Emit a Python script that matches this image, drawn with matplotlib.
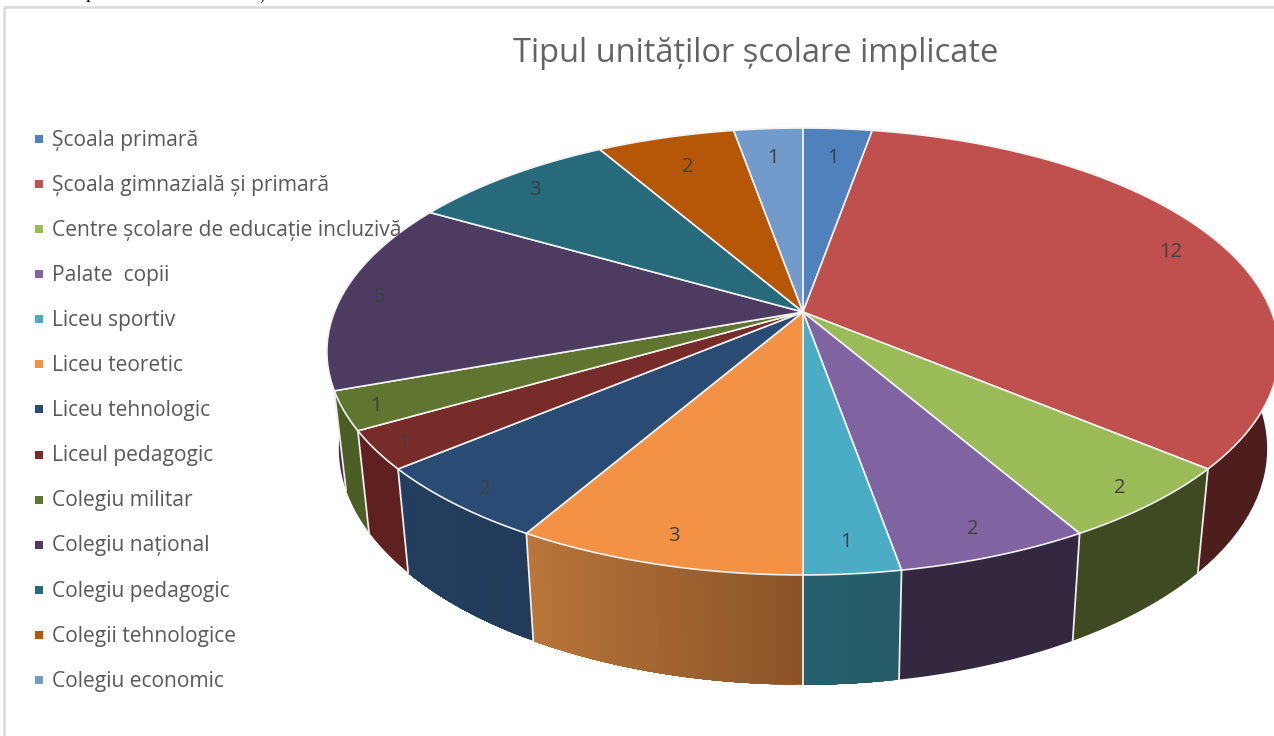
import numpy as np
import matplotlib
matplotlib.use('Agg')
import matplotlib.pyplot as plt

plt.rcParams['font.family'] = ['Open Sans', 'DejaVu Sans']

categories = ['Școala primară', 'Școala gimnazială și primară',
              'Centre școlare de educație incluzivă', 'Palate  copii',
              'Liceu sportiv', 'Liceu teoretic', 'Liceu tehnologic',
              'Liceul pedagogic', 'Colegiu militar', 'Colegiu național',
              'Colegiu pedagogic', 'Colegii tehnologice', 'Colegiu economic']
values = [1, 12, 2, 2, 1, 3, 2, 1, 1, 5, 3, 2, 1]

top_colors = ['#4F81BD', '#C0504D', '#9BBB59', '#8064A2', '#4BACC6', '#F39244', '#2A4B73',
              '#772C2A', '#5F7530', '#4D3B62', '#276A7C', '#B65708', '#729ACA']
# side colours, both ends of each slice
side_a = ['#2F4D71', '#4D1E1D', '#3F4A23', '#332840', '#265C68', '#8A5428', '#223B59',
          '#5F2120', '#4C5E26', '#3E2F4E', '#1F5563', '#8A4206', '#4F6E95']
side_b = ['#2F4D71', '#4D1E1D', '#3F4A23', '#332840', '#265F6E', '#BA753A', '#233E5E',
          '#5F2120', '#4C5E26', '#3E2F4E', '#1F5563', '#8A4206', '#4F6E95']
label_r = [.83, .88, .92, .9, .89, .9, .925, .94, .935, .92, .9, .82, .83]

# pie projection, in pixels
cx, cy = 803, 312
k = 0.1767
ax_x, ax_y = 468.6, 216.5
side_sx, side_sy, side_d = 0.975, 1.056, 95


def project(ang, r=1.0):
    # clockwise from the top, with some perspective on the disc
    x = r * np.sin(ang)
    y = r * np.cos(ang)
    d = 1 + k * y
    return ax_x * x / d, ax_y * y / d


def rim(ang):
    x, y = project(ang)
    return cx + x, cy - y


def rim_low(ang):
    x, y = project(ang)
    return cx + side_sx * x, cy - side_sy * y + side_d


def wall(ax, a1, a2, col, **kw):
    angs = np.linspace(a1, a2, 60)
    xt, yt = rim(angs)
    xb, yb = rim_low(angs)
    ax.fill(np.r_[xt, xb[::-1]], np.r_[yt, yb[::-1]], color=col, zorder=1, **kw)


fig = plt.figure(figsize=(12.74, 7.36), dpi=100)
ax = fig.add_axes([0, 0, 1, 1])
ax.set_xlim(0, 1274)
ax.set_ylim(736, 0)
ax.axis('off')

# cut off line of the page text and the chart frame
ax.text(90, -2, 'p', family='Liberation Serif', fontsize=14, color='black', ha='center', va='baseline')
ax.text(262, -1, ',', family='Liberation Serif', fontsize=14, color='black', ha='center', va='baseline')
ax.plot([4, 4, 1274], [736, 7, 7], color='#D9D9D9', lw=1.8, solid_joinstyle='miter')

edges = np.radians(np.cumsum([0] + values) * 360.0 / sum(values))
mids = (edges[:-1] + edges[1:]) / 2

# sides, back slices first
for i in np.argsort(-np.cos(mids)):
    ca = np.array(matplotlib.colors.to_rgb(side_a[i]))
    cb = np.array(matplotlib.colors.to_rgb(side_b[i]))
    wall(ax, edges[i], edges[i + 1], (ca + cb) / 2, lw=0)
    if side_a[i] != side_b[i]:
        n = 40
        angs = np.linspace(edges[i], edges[i + 1], n + 1)
        # each strip runs on under the next one, so no seams show
        for j in range(n):
            wall(ax, angs[j], edges[i + 1], ca + (cb - ca) * (j + .5) / n, lw=0)

# white seams on the front of the side wall
for e in edges:
    if np.cos(e) < -0.3:
        xt, yt = rim(e)
        xb, yb = rim_low(e)
        ax.plot([xt, xb], [yt, yb], color='#EDEDED', lw=1.3, zorder=1.5)

# top of the slices
for i in range(len(values)):
    angs = np.linspace(edges[i], edges[i + 1], 120)
    xt, yt = rim(angs)
    ax.fill(np.r_[cx, xt], np.r_[cy, yt], facecolor=top_colors[i], edgecolor='#F2F2F2', lw=1.2,
            joinstyle='round', zorder=2)
    lx, ly = project(mids[i], label_r[i])
    ax.text(cx + lx, cy - ly + 2, str(values[i]), fontsize=14.5, color='#404040', ha='center', va='center', zorder=3)

# legend
for i, name in enumerate(categories):
    y = 139 + i * 45.08
    ax.plot(39, y, marker='s', ms=5.8, color=top_colors[i], mew=0)
    ax.text(52, y + 1.2, name, fontsize=15.1, color='#595959', ha='left', va='center', zorder=4)

ax.text(756, 53, 'Tipul unităților școlare implicate', fontsize=23.5, color='#636363', ha='center', va='center')

fig.savefig('out.png', dpi=100)
